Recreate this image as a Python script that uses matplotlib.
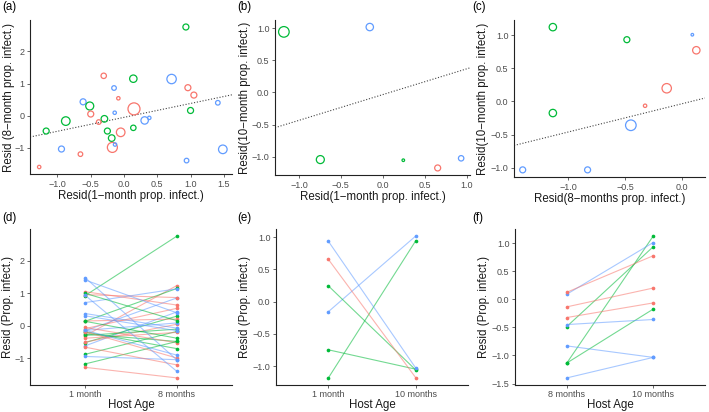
import matplotlib.pyplot as plt
import numpy as np

plt.rcParams["font.family"] = ["Liberation Sans", "DejaVu Sans"]

# group colours (ggplot hue palette)
colors = {"r": "#F8766D", "g": "#00BA38", "b": "#619CFF"}

## --- (a) / (d): 1-month vs 8-month residuals --- ##
a_x = [0.93, -0.305, 0.14, 0.715, -0.15, 0.96, 1.05, -0.085, -0.615, -0.515, -0.5, -0.14,
       0.15, 1.41, 1.0, -0.875, -0.295, -0.38, 0.31, 0.38, -0.25, 0.14, -0.05, -1.17,
       -0.185, -0.175, -0.135, -0.94, -0.655, 1.485, 0.94, -1.275]
a_y = [2.76, 1.24, 1.15, 1.14, 0.86, 0.87, 0.64, 0.54, 0.43, 0.30, 0.05, 0.09,
       0.21, 0.40, 0.16, -0.17, -0.10, -0.20, -0.15, -0.07, -0.48, -0.38, -0.52, -0.48,
       -0.70, -0.99, -0.90, -1.04, -1.20, -1.05, -1.40, -1.60]
a_grp = ["g", "r", "g", "b", "b", "r", "r", "r", "b", "g", "r", "b",
         "r", "b", "g", "g", "g", "r", "b", "b", "g", "g", "r", "g",
         "g", "r", "b", "b", "r", "b", "b", "r"]
a_w = [3.0, 2.7, 3.7, 4.7, 2.3, 3.0, 3.0, 1.7, 3.0, 4.0, 3.0, 1.7,
       6.0, 2.3, 3.0, 4.3, 3.3, 2.3, 3.7, 1.7, 3.0, 2.7, 4.3, 3.0,
       3.3, 5.0, 1.7, 3.0, 2.3, 4.3, 2.3, 1.7]
a_fit = (0.433, -0.054)  # slope, intercept

## --- (b) / (e): 1-month vs 10-month residuals --- ##
b_x = [-1.18, -0.155, -0.745, 0.245, 0.655, 0.935]
b_y = [0.94, 1.015, -1.045, -1.055, -1.175, -1.025]
b_grp = ["g", "b", "g", "g", "r", "b"]
b_w = [5.3, 3.7, 4.0, 1.3, 3.0, 2.7]
b_fit = (0.40, -0.035)

## --- (c) / (f): 8-month vs 10-month residuals --- ##
c_x = [-1.135, -0.485, 0.09, 0.125, -0.135, -0.325, -1.135, -0.45, -1.40, -0.83]
c_y = [1.125, 0.935, 1.01, 0.775, 0.20, -0.065, -0.175, -0.36, -1.035, -1.035]
c_grp = ["g", "g", "b", "r", "r", "r", "g", "b", "b", "b"]
c_w = [3.7, 3.0, 1.3, 3.7, 4.7, 1.7, 3.7, 5.3, 3.0, 3.0]
c_fit = (0.428, -0.034)

W, H = 709, 412
fig = plt.figure(figsize=(W / 100, H / 100), dpi=100)


def add_ax(l, t, r, b):
    ax = fig.add_axes([l / W, 1 - b / H, (r - l) / W, (b - t) / H])
    ax._box = (l, t, r, b)
    return ax


def style(ax, xlab, ylab, tag, ylab_x, tag_xy, xpad=1.5, xlabpad=1):
    l, t, r, b = ax._box
    for s in ["top", "right"]:
        ax.spines[s].set_visible(False)
    for s in ["left", "bottom"]:
        ax.spines[s].set_linewidth(0.8)
        ax.spines[s].set_color("#222222")
    ax.tick_params(labelsize=6.5, colors="#4D4D4D", length=2.5, width=0.6, pad=1.5)
    ax.tick_params(axis="x", pad=xpad)
    ax.set_xlabel(xlab, fontsize=8.3, color="#1a1a1a", labelpad=xlabpad)
    ax.set_ylabel(ylab, fontsize=8.3, color="#1a1a1a", va="center")
    ax.yaxis.set_label_coords((ylab_x - l) / (r - l), 0.5)
    fig.text(tag_xy[0] / W, 1 - tag_xy[1] / H, tag, fontsize=8.3, va="center", ha="left")


def minus(vals, fmt):
    return [(fmt % v).replace("-", "\u2212") for v in vals]


def lims(v):
    lo, hi = min(v), max(v)
    pad = 0.05 * (hi - lo)
    return lo - pad, hi + pad


def bubble(ax, x, y, grp, w, fit):
    s = [(2 * r * 0.72) ** 2 for r in w]
    ax.scatter(x, y, s=s, facecolors="none", edgecolors=[colors[g] for g in grp],
               linewidths=0.9, zorder=3)
    ax.set_xlim(*lims(x))
    ax.set_ylim(*lims(y))
    xx = np.array(ax.get_xlim())
    ax.plot(xx, fit[0] * xx + fit[1], ls=(0, (1, 1.6)), color="#444444", lw=0.8, zorder=2)


def paired(ax, v1, v2, grp, cats):
    for a, b, g in zip(v1, v2, grp):
        ax.plot([1, 2], [a, b], color=colors[g], alpha=0.55, lw=0.8, zorder=2)
        ax.scatter([1, 2], [a, b], color=colors[g], s=7, zorder=3, linewidths=0)
    ax.set_xlim(0.4, 2.6)
    ax.set_ylim(*lims(list(v1) + list(v2)))
    ax.set_xticks([1, 2])
    ax.set_xticklabels(cats)


# (a)
ax = add_ax(30, 20, 232, 174)
bubble(ax, a_x, a_y, a_grp, a_w, a_fit)
xt = [-1.0, -0.5, 0.0, 0.5, 1.0, 1.5]
ax.set_xticks(xt, minus(xt, "%.1f"))
yt = [-1, 0, 1, 2]
ax.set_yticks(yt, minus(yt, "%d"))
style(ax, "Resid(1\u2212month prop. infect.)", "Resid (8\u2212month prop. infect.)", "(a)",
      9, (2, 7))

# (b)
ax = add_ax(275, 20, 470, 175)
bubble(ax, b_x, b_y, b_grp, b_w, b_fit)
xt = [-1.0, -0.5, 0.0, 0.5, 1.0]
ax.set_xticks(xt, minus(xt, "%.1f"))
yt = [-1.0, -0.5, 0.0, 0.5, 1.0]
ax.set_yticks(yt, minus(yt, "%.1f"))
style(ax, "Resid(1\u2212month prop. infect.)", "Resid(10\u2212month prop. infect.)", "(b)",
      245, (237, 7))

# (c)
ax = add_ax(514, 20, 705, 177)
bubble(ax, c_x, c_y, c_grp, c_w, c_fit)
xt = [-1.0, -0.5, 0.0]
ax.set_xticks(xt, minus(xt, "%.1f"))
yt = [-1.0, -0.5, 0.0, 0.5, 1.0]
ax.set_yticks(yt, minus(yt, "%.1f"))
style(ax, "Resid(8\u2212months prop. infect.)", "Resid(10\u2212month prop. infect.)", "(c)",
      483, (472, 7))

# (d)
ax = add_ax(30, 229, 232, 385)
paired(ax, a_x, a_y, a_grp, ["1 month", "8 months"])
yt = [-1, 0, 1, 2]
ax.set_yticks(yt, minus(yt, "%d"))
style(ax, "Host Age", "Resid (Prop. infect.)", "(d)", 8, (2, 218), xpad=1, xlabpad=0)

# (e)
ax = add_ax(276, 229, 468, 385)
paired(ax, b_x, b_y, b_grp, ["1 month", "10 months"])
yt = [-1.0, -0.5, 0.0, 0.5, 1.0]
ax.set_yticks(yt, minus(yt, "%.1f"))
style(ax, "Host Age", "Resid (Prop. infect.)", "(e)", 245, (237, 218), xpad=1, xlabpad=0)

# (f)
ax = add_ax(515, 229, 705, 385)
paired(ax, c_x, c_y, c_grp, ["8 months", "10 months"])
yt = [-1.5, -1.0, -0.5, 0.0, 0.5, 1.0]
ax.set_yticks(yt, minus(yt, "%.1f"))
style(ax, "Host Age", "Resid (Prop. infect.)", "(f)", 484, (472, 218), xpad=1, xlabpad=0)

fig.savefig("out.png", dpi=100)
